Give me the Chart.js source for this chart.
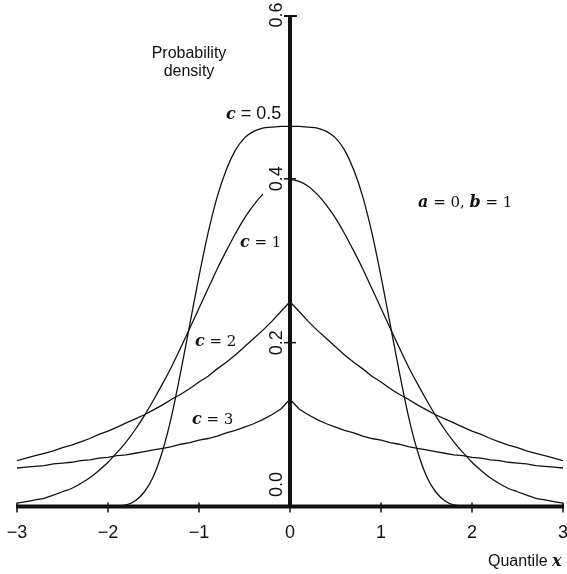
<!DOCTYPE html>
<html>
<head>
<meta charset="utf-8">
<title>Exponential power densities</title>
<script src="https://cdn.jsdelivr.net/npm/chart.js@4.4.1/dist/chart.umd.min.js"></script>
<style>
  html, body { margin: 0; padding: 0; background: #fff; }
  canvas { display: block; }
</style>
</head>
<body>
<canvas id="chart" width="567" height="574"></canvas>
<script>
// Quantile grid shared by every curve
const quantiles = [-3.0,-2.9,-2.8,-2.7,-2.6,-2.5,-2.4,-2.3,-2.2,-2.1,-2.0,-1.9,-1.8,-1.7,-1.6,-1.5,-1.4,-1.3,-1.2,-1.1,-1.0,-0.9,-0.8,-0.7,-0.6,-0.5,-0.4,-0.3,-0.2,-0.1,0,
  0.1,0.2,0.3,0.4,0.5,0.6,0.7,0.8,0.9,1.0,1.1,1.2,1.3,1.4,1.5,1.6,1.7,1.8,1.9,2.0,2.1,2.2,2.3,2.4,2.5,2.6,2.7,2.8,2.9,3.0];

// Probability density for each shape parameter c
const densityC05 = [0,0,0,0,0,0,0,0,0,0,0.000,0.001,0.002,0.007,0.018,0.037,0.068,0.111,0.165,0.223,0.281,0.334,0.378,0.411,0.435,0.450,0.458,0.462,0.463,0.464,0.464,
  0.464,0.463,0.462,0.458,0.450,0.435,0.411,0.378,0.334,0.281,0.223,0.165,0.111,0.068,0.037,0.018,0.007,0.002,0.001,0.000,0,0,0,0,0,0,0,0,0,0];
const densityC1 = [0.004,0.006,0.008,0.010,0.014,0.018,0.022,0.028,0.035,0.044,0.054,0.066,0.079,0.094,0.111,0.130,0.150,0.171,0.194,0.218,0.242,0.266,0.290,0.312,0.333,0.352,0.368,0.381,0.391,0.397,0.399,
  0.397,0.391,0.381,0.368,0.352,0.333,0.312,0.290,0.266,0.242,0.218,0.194,0.171,0.150,0.130,0.111,0.094,0.079,0.066,0.054,0.044,0.035,0.028,0.022,0.018,0.014,0.010,0.008,0.006,0.004];
const densityC2 = [0.056,0.059,0.062,0.065,0.068,0.072,0.075,0.079,0.083,0.088,0.092,0.097,0.102,0.107,0.112,0.118,0.124,0.131,0.137,0.144,0.152,0.159,0.168,0.176,0.185,0.195,0.205,0.215,0.226,0.238,0.250,
  0.238,0.226,0.215,0.205,0.195,0.185,0.176,0.168,0.159,0.152,0.144,0.137,0.131,0.124,0.118,0.112,0.107,0.102,0.097,0.092,0.088,0.083,0.079,0.075,0.072,0.068,0.065,0.062,0.059,0.056];
const densityC3 = [0.047,0.048,0.049,0.050,0.052,0.053,0.054,0.056,0.057,0.059,0.060,0.062,0.063,0.065,0.067,0.069,0.071,0.073,0.076,0.078,0.081,0.083,0.086,0.090,0.093,0.097,0.101,0.106,0.112,0.119,0.131,
  0.119,0.112,0.106,0.101,0.097,0.093,0.090,0.086,0.083,0.081,0.078,0.076,0.073,0.071,0.069,0.067,0.065,0.063,0.062,0.060,0.059,0.057,0.056,0.054,0.053,0.052,0.050,0.049,0.048,0.047];

// Axis ticks
const xTicks = [-3, -2, -1, 0, 1, 2, 3];
const xTickLabels = ['\u22123', '\u22122', '\u22121', '0', '1', '2', '3'];
const yTicks = [0, 0.2, 0.4, 0.6];
const yTickLabels = ['0.0', '0.2', '0.4', '0.6'];

const INK = '#111';
const SANS = '"Liberation Sans", Arial, sans-serif';
const SERIF = '"DejaVu Serif", serif';
const VAR_FONT = 'italic bold 16px ' + SERIF;

function points(values) {
  return quantiles.map((q, i) => ({ x: q, y: values[i] }));
}

function curve(label, values, smooth) {
  return {
    label,
    data: points(values),
    borderColor: INK,
    borderWidth: 1.3,
    pointRadius: 0,
    fill: false,
    tension: 0,
    cubicInterpolationMode: smooth ? 'monotone' : 'default'
  };
}

// Draws a run of differently styled text pieces, left-aligned at (x, y)
function richText(ctx, parts, x, y) {
  ctx.textAlign = 'left';
  ctx.textBaseline = 'alphabetic';
  let cx = x;
  for (const p of parts) {
    ctx.font = p.f;
    ctx.fillText(p.t, cx, y);
    cx += ctx.measureText(p.t).width;
  }
}

const axesAndNotes = {
  id: 'axesAndNotes',
  beforeDraw(chart) {
    const ctx = chart.ctx;
    ctx.save();
    ctx.fillStyle = '#fff';
    ctx.fillRect(0, 0, chart.width, chart.height);
    ctx.restore();
  },
  afterDatasetsDraw(chart) {
    const ctx = chart.ctx;
    const xs = chart.scales.x, ys = chart.scales.y;
    const x0 = xs.getPixelForValue(0);
    const y0 = ys.getPixelForValue(0);
    ctx.save();

    // white backing under the 0.4 label
    ctx.fillStyle = '#fff';
    ctx.fillRect(263, ys.getPixelForValue(0.4) - 17, x0 - 265, 34);

    ctx.strokeStyle = INK;
    ctx.lineCap = 'butt';

    // horizontal axis
    ctx.lineWidth = 4;
    ctx.beginPath();
    ctx.moveTo(xs.getPixelForValue(-3) - 1, y0);
    ctx.lineTo(xs.getPixelForValue(3) + 1, y0);
    ctx.stroke();
    ctx.lineWidth = 1.5;
    xTicks.forEach(v => {
      const px = xs.getPixelForValue(v);
      ctx.beginPath();
      ctx.moveTo(px, y0 - 4);
      ctx.lineTo(px, y0 + 6);
      ctx.stroke();
    });

    // vertical axis
    ctx.lineWidth = 4;
    ctx.beginPath();
    ctx.moveTo(x0, y0);
    ctx.lineTo(x0, ys.getPixelForValue(0.6));
    ctx.stroke();
    ctx.lineWidth = 1.5;
    [0.2, 0.4].forEach(v => {
      const py = ys.getPixelForValue(v);
      ctx.beginPath();
      ctx.moveTo(x0 - 6, py);
      ctx.lineTo(x0 + 6, py);
      ctx.stroke();
    });
    ctx.lineWidth = 2;
    const pTop = ys.getPixelForValue(0.6);
    ctx.beginPath();
    ctx.moveTo(x0 - 6, pTop + 1);
    ctx.lineTo(x0 + 7, pTop + 1);
    ctx.stroke();

    ctx.fillStyle = INK;

    // horizontal tick labels
    ctx.font = '18px ' + SANS;
    ctx.textAlign = 'center';
    ctx.textBaseline = 'alphabetic';
    xTicks.forEach((v, i) => {
      ctx.fillText(xTickLabels[i], xs.getPixelForValue(v), y0 + 31);
    });

    // vertical tick labels, turned to read upward
    yTicks.forEach((v, i) => {
      let py = ys.getPixelForValue(v);
      if (v === 0) py -= 22;
      ctx.save();
      ctx.translate(x0 - 8, py);
      ctx.rotate(-Math.PI / 2);
      ctx.font = '18px ' + SANS;
      ctx.textAlign = 'center';
      ctx.textBaseline = 'alphabetic';
      ctx.fillText(yTickLabels[i], 0, 0);
      ctx.restore();
    });

    // axis titles
    ctx.font = '16px ' + SANS;
    ctx.textAlign = 'center';
    ctx.fillText('Probability', 189, 58);
    ctx.fillText('density', 189, 76);
    richText(ctx, [{ t: 'Quantile ', f: '16px ' + SANS }, { t: 'x', f: VAR_FONT }], 488, 566);

    // curve notes
    const eq = '15px ' + SERIF;
    richText(ctx, [{ t: 'c', f: VAR_FONT }, { t: ' = 0.5', f: '18px ' + SANS }], 226, 119);
    richText(ctx, [{ t: 'c', f: VAR_FONT }, { t: ' = 1', f: eq }], 240, 247);
    richText(ctx, [{ t: 'c', f: VAR_FONT }, { t: ' = 2', f: eq }], 195, 346);
    richText(ctx, [{ t: 'c', f: VAR_FONT }, { t: ' = 3', f: eq }], 192, 424);
    richText(ctx, [
      { t: 'a', f: VAR_FONT }, { t: ' = 0, ', f: eq },
      { t: 'b', f: VAR_FONT }, { t: ' = 1', f: eq }
    ], 418, 207);

    ctx.restore();
  }
};

new Chart(document.getElementById('chart'), {
  type: 'line',
  data: {
    datasets: [
      curve('c = 0.5', densityC05, true),
      curve('c = 1', densityC1, true),
      curve('c = 2', densityC2, false),
      curve('c = 3', densityC3, false)
    ]
  },
  options: {
    responsive: false,
    devicePixelRatio: 1,
    animation: false,
    layout: { padding: { left: 17, right: 4, top: 15, bottom: 67.5 } },
    scales: {
      x: { type: 'linear', min: -3, max: 3, display: false },
      y: { type: 'linear', min: 0, max: 0.6, display: false }
    },
    plugins: { legend: { display: false }, tooltip: { enabled: false } }
  },
  plugins: [axesAndNotes]
});
</script>
</body>
</html>
